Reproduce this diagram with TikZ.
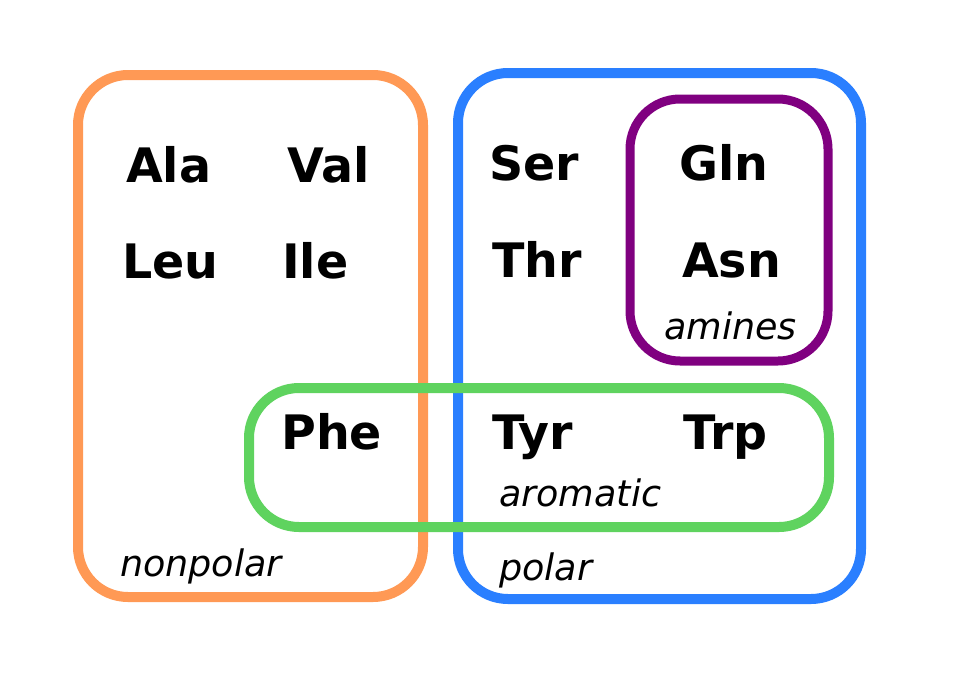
\documentclass[tikz,border=0pt]{standalone}
\usepackage{fontspec}
\setmainfont{DejaVu Sans}
\definecolor{orangec}{HTML}{FF9955}
\definecolor{bluec}{HTML}{2A7FFF}
\definecolor{purplec}{HTML}{800080}
\definecolor{greenc}{HTML}{5FD35F}
\tikzset{
  grp/.style={line width=10pt, rounded corners=50pt},
  aa/.style={anchor=base west, inner sep=0pt, font=\fontsize{47.5}{48}\selectfont\bfseries},
  lbl/.style={anchor=base west, inner sep=0pt, font=\fontsize{36.5}{37}\selectfont\itshape}
}
\begin{document}
\begin{tikzpicture}[x=1pt,y=-1pt]
\useasboundingbox (0,0) rectangle (967,691);
\draw[grp, orangec] (78,75) rectangle (423,597);
\draw[grp, bluec] (458,73) rectangle (861,599);
\draw[grp, purplec, line width=9pt] (630,99) rectangle (828,361);
\draw[grp, greenc] (249,388) rectangle (829,527);
\node[aa] (ala) at (126,182) {Ala};
\node[aa] (val) at (287,182) {Val};
\node[aa] (leu) at (122,278) {Leu};
\node[aa] (ile) at (282,278) {Ile};
\node[aa] (ser) at (489,180) {Ser};
\node[aa] (gln) at (679,180) {Gln};
\node[aa] (thr) at (492,277) {Thr};
\node[aa] (asn) at (682,277) {Asn};
\node[aa] (phe) at (281,449) {Phe};
\node[aa] (tyr) at (492,449) {Tyr};
\node[aa] (trp) at (683,449) {Trp};
\node[lbl] (amines) at (664,339) {amines};
\node[lbl] (aromatic) at (499,506) {aromatic};
\node[lbl] (nonpolar) at (120,576) {nonpolar};
\node[lbl] (polar) at (499,580) {polar};
\end{tikzpicture}
\end{document}
